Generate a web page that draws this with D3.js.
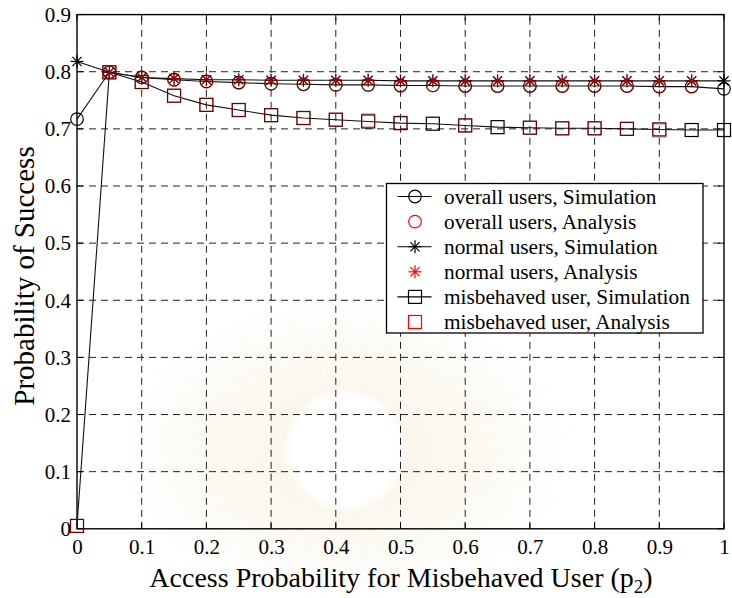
<!DOCTYPE html>
<html>
<head>
<meta charset="utf-8">
<script src="https://cdn.jsdelivr.net/npm/d3@7"></script>
<style>
  html, body { margin: 0; padding: 0; background: #fff; }
  svg { display: block; }
  text { font-family: "Liberation Serif", "Times New Roman", serif; fill: #000; }
</style>
</head>
<body>
<svg id="chart" width="732" height="598"></svg>
<script>
// Access probability of the misbehaved user (p2)
const p2 = [0, 0.05, 0.1, 0.15, 0.2, 0.25, 0.3, 0.35, 0.4, 0.45, 0.5,
            0.55, 0.6, 0.65, 0.7, 0.75, 0.8, 0.85, 0.9, 0.95, 1];

// Probability of success, simulation
const overallSim = [0.717, 0.799, 0.790, 0.786, 0.783, 0.781, 0.779, 0.778, 0.777, 0.777, 0.776,
                    0.776, 0.775, 0.775, 0.775, 0.775, 0.775, 0.775, 0.774, 0.774, 0.770];
const normalSim  = [0.818, 0.799, 0.790, 0.788, 0.786, 0.786, 0.785, 0.785, 0.785, 0.785, 0.784,
                    0.784, 0.784, 0.784, 0.784, 0.784, 0.784, 0.784, 0.784, 0.784, 0.784];
const misSim     = [0.005, 0.799, 0.782, 0.758, 0.742, 0.733, 0.724, 0.719, 0.716, 0.713, 0.710,
                    0.709, 0.706, 0.703, 0.702, 0.701, 0.701, 0.700, 0.699, 0.698, 0.698];

// Probability of success, analysis (null = not computed)
const overallAna = [null, 0.799, 0.790, 0.785, 0.782, 0.780, 0.779, 0.778, 0.777, 0.776, 0.774,
                    0.776, 0.775, 0.775, 0.775, 0.775, 0.775, 0.775, 0.774, 0.774, null];
const normalAna  = [null, 0.799, 0.790, 0.788, 0.786, 0.786, 0.785, 0.785, 0.785, 0.785, 0.784,
                    0.784, 0.784, 0.784, 0.784, 0.784, 0.784, 0.784, 0.784, 0.784, null];
const misAna     = [0.005, 0.799, 0.782, 0.758, 0.742, 0.733, 0.724, 0.719, 0.716, 0.715, 0.711,
                    null, 0.706, null, 0.702, 0.701, 0.701, 0.700, 0.697, null, null];

const xTicks = [0, 0.1, 0.2, 0.3, 0.4, 0.5, 0.6, 0.7, 0.8, 0.9, 1];
const yTicks = [0, 0.1, 0.2, 0.3, 0.4, 0.5, 0.6, 0.7, 0.8, 0.9];

const legendLabels = [
  "overall users, Simulation",
  "overall users, Analysis",
  "normal users, Simulation",
  "normal users, Analysis",
  "misbehaved user, Simulation",
  "misbehaved user, Analysis"
];

const svg = d3.select("#chart");
const plot = { left: 77, right: 724, top: 14.6, bottom: 528.8 };

const x = d3.scaleLinear().domain([0, 1]).range([plot.left, plot.right]);
const y = d3.scaleLinear().domain([0, 0.9]).range([plot.bottom, plot.top]);

// Faint background emblem with soft edges
const defs = svg.append("defs");
const glow = defs.append("radialGradient").attr("id", "emblemGlow");
glow.append("stop").attr("offset", "0%").attr("stop-color", "#f8f2e2").attr("stop-opacity", 0.55);
glow.append("stop").attr("offset", "60%").attr("stop-color", "#f9f4e8").attr("stop-opacity", 0.4);
glow.append("stop").attr("offset", "100%").attr("stop-color", "#ffffff").attr("stop-opacity", 0);
defs.append("filter").attr("id", "soft")
  .append("feGaussianBlur").attr("stdDeviation", 3);

const emblem = svg.append("g").attr("transform", "translate(345,450)");
emblem.append("ellipse").attr("rx", 250).attr("ry", 170).attr("fill", "url(#emblemGlow)");
const rays = emblem.append("g").attr("filter", "url(#soft)");
const rayCount = 44;
d3.range(rayCount).forEach(i => {
  const a = (i / rayCount) * 2 * Math.PI;
  const a1 = a - 0.05, a2 = a + 0.05;
  const r0 = 55, rx = 235, ry = 158;
  rays.append("path")
    .attr("d", `M${r0 * Math.cos(a1)},${r0 * Math.sin(a1)} L${rx * Math.cos(a)},${ry * Math.sin(a)} L${r0 * Math.cos(a2)},${r0 * Math.sin(a2)} Z`)
    .attr("fill", "#f2e8cd")
    .attr("opacity", 0.25);
});
emblem.append("circle").attr("r", 58).attr("fill", "#fff").attr("filter", "url(#soft)");

// Grid
const grid = svg.append("g").attr("stroke", "#222").attr("stroke-width", 1)
  .attr("stroke-dasharray", "7,5").attr("fill", "none");
xTicks.slice(1, -1).forEach(t => {
  grid.append("line").attr("x1", x(t)).attr("x2", x(t)).attr("y1", plot.bottom).attr("y2", plot.top);
});
yTicks.slice(1, -1).forEach(t => {
  grid.append("line").attr("x1", plot.left).attr("x2", plot.right).attr("y1", y(t)).attr("y2", y(t));
});

// Axes
const xAxis = d3.axisBottom(x).tickValues(xTicks).tickSize(0).tickPadding(10)
  .tickFormat(d => d === 0 || d === 1 ? String(d) : d3.format(".1f")(d));
const yAxis = d3.axisLeft(y).tickValues(yTicks).tickSize(0).tickPadding(6)
  .tickFormat(d => d === 0 ? "0" : d3.format(".1f")(d));

const gx = svg.append("g").attr("transform", `translate(0,${plot.bottom})`).call(xAxis);
const gy = svg.append("g").attr("transform", `translate(${plot.left},0)`).call(yAxis);
[gx, gy].forEach(g => {
  g.select(".domain").remove();
  g.selectAll("text").attr("font-size", 21).attr("font-family", "Liberation Serif").attr("fill", "#000");
});

// Frame
svg.append("rect")
  .attr("x", plot.left).attr("y", plot.top)
  .attr("width", plot.right - plot.left).attr("height", plot.bottom - plot.top)
  .attr("fill", "none").attr("stroke", "#000").attr("stroke-width", 1.4);

// Inward ticks on all four sides
const tk = svg.append("g").attr("stroke", "#000").attr("stroke-width", 1);
xTicks.forEach(t => {
  tk.append("line").attr("x1", x(t)).attr("x2", x(t)).attr("y1", plot.bottom).attr("y2", plot.bottom - 6);
  tk.append("line").attr("x1", x(t)).attr("x2", x(t)).attr("y1", plot.top).attr("y2", plot.top + 6);
});
yTicks.forEach(t => {
  tk.append("line").attr("x1", plot.left).attr("x2", plot.left + 6).attr("y1", y(t)).attr("y2", y(t));
  tk.append("line").attr("x1", plot.right).attr("x2", plot.right - 6).attr("y1", y(t)).attr("y2", y(t));
});

// Marker shapes
function drawMarker(g, type, cx, cy, color, opacity) {
  const m = g.append("g").attr("transform", `translate(${cx},${cy})`)
    .attr("stroke", color).attr("fill", "none").attr("stroke-width", 1.2)
    .attr("stroke-opacity", opacity);
  if (type === "circle") {
    m.append("circle").attr("r", 6.3);
  } else if (type === "square") {
    m.append("rect").attr("x", -6.5).attr("y", -6.5).attr("width", 13).attr("height", 13);
  } else {
    const s = 6.5, d = 4.6;
    m.append("line").attr("x1", 0).attr("y1", -s).attr("x2", 0).attr("y2", s);
    m.append("line").attr("x1", -s).attr("y1", 0).attr("x2", s).attr("y2", 0);
    m.append("line").attr("x1", -d).attr("y1", -d).attr("x2", d).attr("y2", d);
    m.append("line").attr("x1", -d).attr("y1", d).attr("x2", d).attr("y2", -d);
  }
}

const line = d3.line()
  .defined(d => d[1] != null)
  .x(d => x(d[0])).y(d => y(d[1]));

const series = [
  { sim: overallSim, ana: overallAna, marker: "circle" },
  { sim: normalSim, ana: normalAna, marker: "star" },
  { sim: misSim, ana: misAna, marker: "square" }
];

const dataLayer = svg.append("g");
series.forEach(s => {
  dataLayer.append("path")
    .datum(p2.map((v, i) => [v, s.sim[i]]))
    .attr("d", line).attr("fill", "none")
    .attr("stroke", "#111").attr("stroke-width", 1.1);
});
series.forEach(s => {
  p2.forEach((v, i) => drawMarker(dataLayer, s.marker, x(v), y(s.sim[i]), "#000", 1));
});
series.forEach(s => {
  p2.forEach((v, i) => {
    if (s.ana[i] != null) drawMarker(dataLayer, s.marker, x(v), y(s.ana[i]), "#ff0000", 0.42);
  });
});

// Legend
const lg = svg.append("g").attr("transform", "translate(386.5,183.5)");
lg.append("rect").attr("width", 316.5).attr("height", 149.5)
  .attr("fill", "#fff").attr("stroke", "#000").attr("stroke-width", 1.3);
const legendItems = [
  { marker: "circle", color: "#000", line: true },
  { marker: "circle", color: "#ff0000", line: false },
  { marker: "star", color: "#000", line: true },
  { marker: "star", color: "#ff0000", line: false },
  { marker: "square", color: "#000", line: true },
  { marker: "square", color: "#ff0000", line: false }
];
legendItems.forEach((it, i) => {
  const cy = 13 + i * 25.1;
  if (it.line) {
    lg.append("line").attr("x1", 11).attr("x2", 45).attr("y1", cy).attr("y2", cy)
      .attr("stroke", "#000").attr("stroke-width", 1.1);
  }
  drawMarker(lg, it.marker, 28.5, cy, it.color, 1);
  lg.append("text").attr("x", 57.5).attr("y", cy + 7)
    .attr("font-size", 21.3).text(legendLabels[i]);
});

// Axis titles
svg.append("text")
  .attr("transform", "translate(34,276) rotate(-90)")
  .attr("text-anchor", "middle").attr("font-size", 29)
  .text("Probability of Success");

const xt = svg.append("text")
  .attr("x", 401).attr("y", 587)
  .attr("text-anchor", "middle").attr("font-size", 28);
xt.append("tspan").text("Access Probability for Misbehaved User (p");
xt.append("tspan").attr("font-size", 19).attr("dy", 6).text("2");
xt.append("tspan").attr("dy", -6).text(")");
</script>
</body>
</html>
